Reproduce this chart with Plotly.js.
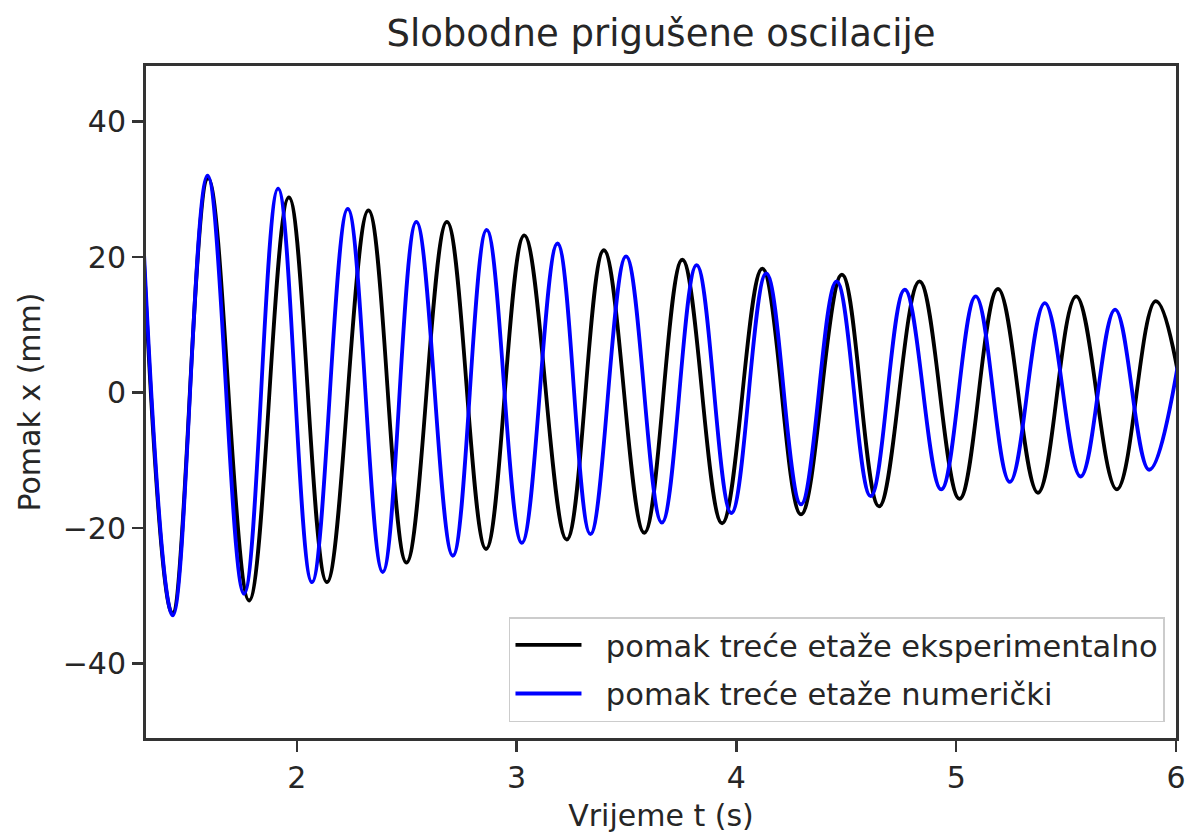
<!DOCTYPE html>
<html>
<head>
<meta charset="utf-8">
<script src="https://cdn.plot.ly/plotly-3.0.1.min.js"></script>
<style>
html, body { margin: 0; padding: 0; background: #ffffff; }
#chart { width: 1187px; height: 833px; }
</style>
</head>
<body>
<div id="chart"></div>
<script>
const expT = [1.278, 1.434, 1.597, 1.783, 1.964, 2.137, 2.326, 2.499, 2.683, 2.861, 3.035, 3.228, 3.397, 3.581, 3.754, 3.935, 4.118, 4.294, 4.480, 4.649, 4.833, 5.015, 5.190, 5.372, 5.546, 5.731, 5.908, 6.088];
const expX = [38.0, -32.6, 31.6, -30.7, 28.8, -28.0, 26.9, -25.1, 25.2, -23.1, 23.2, -21.7, 21.0, -20.7, 19.6, -19.3, 18.3, -18.0, 17.4, -16.8, 16.4, -15.7, 15.3, -14.8, 14.2, -14.3, 13.5, -13.5];

// Numerical displacement of the third floor: extrema
const numT = [1.280, 1.436, 1.594, 1.760, 1.915, 2.069, 2.232, 2.391, 2.544, 2.710, 2.864, 3.024, 3.186, 3.336, 3.498, 3.661, 3.819, 3.977, 4.136, 4.294, 4.456, 4.611, 4.766, 4.932, 5.089, 5.244, 5.403, 5.566, 5.723, 5.878, 6.045];
const numX = [38.0, -32.9, 32.0, -29.7, 30.1, -28.0, 27.1, -26.5, 25.2, -24.1, 24.0, -22.2, 22.0, -20.9, 20.1, -19.2, 18.8, -17.8, 17.6, -16.5, 16.4, -15.3, 15.2, -14.3, 14.2, -13.2, 13.2, -12.4, 12.25, -11.4, 11.3];

const seriesNames = ["pomak treće etaže eksperimentalno", "pomak treće etaže numerički"];
const xTickVals = [2, 3, 4, 5, 6];
const yTickVals = [-40, -20, 0, 20, 40];

const FONT = "DejaVu Sans, Liberation Sans, sans-serif";
const TXT = "#262626";
const AX = "#333333";
const LEGEND_GAP = "\u00A0\u00A0"; // visual gap between legend line and label

const traces = [
  {
    x: expT, y: expX, name: LEGEND_GAP + seriesNames[0], type: "scatter", mode: "lines",
    line: { color: "#000000", width: 3.8, shape: "spline", smoothing: 1.1 },
    legendgroup: "a", showlegend: true
  },
  {
    x: numT, y: numX, name: LEGEND_GAP + seriesNames[1], type: "scatter", mode: "lines",
    line: { color: "#0000ff", width: 3.8, shape: "spline", smoothing: 1.1 },
    legendgroup: "b", showlegend: true
  }
];

const axisCommon = {
  showgrid: false, zeroline: false, showline: true, mirror: true,
  linecolor: AX, linewidth: 3,
  ticks: "outside", ticklen: 11, tickwidth: 2.5, tickcolor: AX,
  tickfont: { family: FONT, size: 30, color: TXT }
};

const layout = {
  width: 1187, height: 833,
  margin: { l: 146, r: 11, t: 66, b: 95, pad: 0 },
  paper_bgcolor: "#ffffff", plot_bgcolor: "#ffffff",
  font: { family: FONT, color: TXT },
  title: {
    text: "Slobodne prigušene oscilacije",
    font: { family: FONT, size: 37, color: TXT },
    x: 0.5, xref: "paper", xanchor: "center",
    y: 0.960, yref: "container", yanchor: "middle"
  },
  xaxis: Object.assign({}, axisCommon, {
    range: [1.314, 6.0],
    tickvals: xTickVals,
    title: { text: "Vrijeme t (s)", font: { family: FONT, size: 30, color: TXT }, standoff: 12 }
  }),
  yaxis: Object.assign({}, axisCommon, {
    range: [-51.0, 48.2],
    tickvals: yTickVals,
    title: { text: "Pomak x (mm)", font: { family: FONT, size: 30, color: TXT }, standoff: 14 }
  }),
  showlegend: true,
  legend: {
    x: 0.9893, y: 0.0238, xanchor: "right", yanchor: "bottom",
    xref: "paper", yref: "paper",
    bgcolor: "rgba(255,255,255,0.8)", bordercolor: "#cccccc", borderwidth: 1.5,
    font: { family: FONT, size: 30.5, color: TXT },
    traceorder: "grouped", tracegroupgap: 6, itemwidth: 66
  }
};

Plotly.newPlot("chart", traces, layout, { staticPlot: true, displayModeBar: false });
</script>
</body>
</html>
